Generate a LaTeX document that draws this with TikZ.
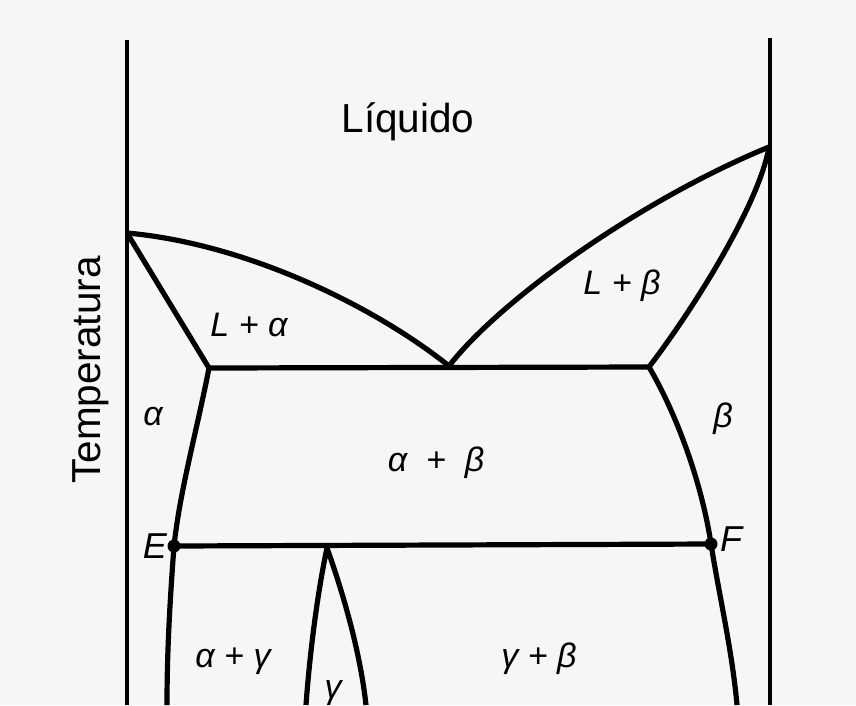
\documentclass[tikz,border=0pt]{standalone}
\usepackage{fontspec}
\setmainfont{Liberation Sans}
\definecolor{bgcol}{HTML}{F6F6F4}
\begin{document}
\begin{tikzpicture}[x=1pt,y=-1pt,
  phase/.style={line width=5.2pt, line join=round},
  axisline/.style={line width=3.2pt},
  lbl/.style={font=\fontsize{34}{40}\selectfont\itshape, inner sep=0pt, anchor=base},
  big/.style={font=\fontsize{40.5}{46}\selectfont, inner sep=0pt, anchor=base},
  pt/.style={circle, fill=black, inner sep=0pt, minimum size=13pt}]
\fill[bgcol] (0,0) rectangle (856,705);
\useasboundingbox (0,0) rectangle (856,705);
% key points
\coordinate (LT) at (127,40);
\coordinate (LB) at (127,705);
\coordinate (RT) at (770,38);
\coordinate (RB) at (770,705);
\coordinate (A) at (127,233);
\coordinate (B) at (769,147);
\coordinate (Eu) at (449,366);
\coordinate (S1) at (209,368);
\coordinate (S2) at (649,367);
\coordinate (G) at (327,548);
\coordinate (Ebot) at (167,705);
\coordinate (Fbot) at (737,705);
\coordinate (Gl) at (306,705);
\coordinate (Gr) at (366,705);
\node[pt] (E) at (174,546) {};
\node[pt] (F) at (711,544) {};
% axes
\draw[axisline] (LT) -- (LB);
\draw[axisline] (RT) -- (RB);
% liquidus / solidus
\draw[phase] (A) .. controls (250,244) and (378,309) .. (Eu);
\draw[phase] (A) -- (S1);
\draw[phase] (Eu) .. controls (500,300) and (640,200) .. (B);
\draw[phase] (B) .. controls (760,200) and (700,300) .. (S2);
\draw[phase] (S1) -- (S2);
% solvus
\draw[phase] (S1) .. controls (197,430) and (180,490) .. (E.center) .. controls (170,600) and (167,650) .. (Ebot);
\draw[phase] (S2) .. controls (680,420) and (703,490) .. (F.center) .. controls (720,600) and (732,650) .. (Fbot);
\draw[phase] (E.center) -- (F.center);
% gamma
\draw[phase] (Gl) .. controls (310,650) and (318,590) .. (G) .. controls (342,590) and (360,650) .. (Gr);
% labels
\node[big] (liq) at (408,132) {Líquido};
\node[big, rotate=90] (temp) at (100,370) {Temperatura};
\node[lbl] (la) at (249,336) {L + α};
\node[lbl] (lb) at (622,294) {L + β};
\node[lbl] (al) at (153,425) {α};
\node[lbl] (be) at (723,427) {β};
\node[lbl] (ab) at (436,471) {α \ + \ β};
\node[lbl, font=\fontsize{36}{40}\selectfont\itshape] (El) at (155,558) {E};
\node[lbl, font=\fontsize{36}{40}\selectfont\itshape] (Fl) at (731,551) {F};
\node[lbl] (ag) at (233,667) {α + γ};
\node[lbl] (ga) at (333,698) {γ};
\node[lbl] (gb) at (539,667) {γ + β};
\end{tikzpicture}
\end{document}
